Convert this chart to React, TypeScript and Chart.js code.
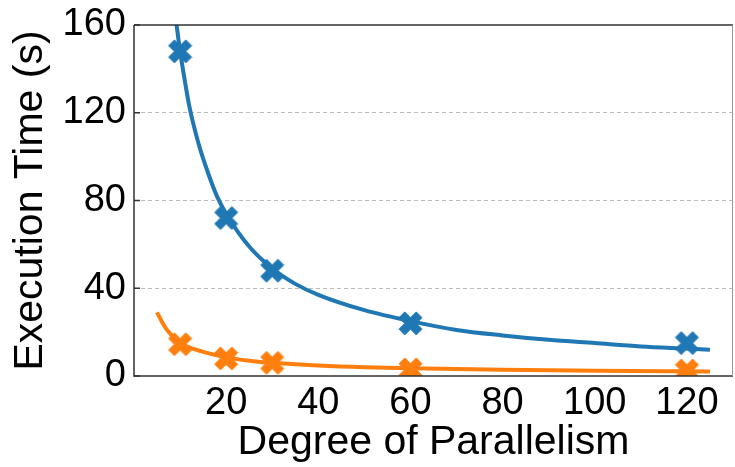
import React, { useEffect, useRef } from "react";
import { Chart, registerables } from "chart.js";

Chart.register(...registerables);

// Measured points (markers)
const degrees = [10, 20, 30, 60, 120];
const blueTimes = [148, 72, 48, 24, 15];
const orangeTimes = [14.5, 8, 6, 3, 2.5];

// Fitted curves
const blueFitX = [9, 10, 11, 12, 14, 16, 18, 20, 25, 30, 35, 40, 50, 60, 70, 80, 90, 100, 110, 120, 125];
const blueFitY = [164, 148, 135, 123, 106, 93, 82, 74, 59, 49, 42, 37, 30, 25, 21, 18.5, 16.5, 15, 13.5, 12.5, 12];
const orangeFitX = [5, 6, 7, 8, 10, 12, 15, 20, 25, 30, 40, 50, 60, 80, 100, 125];
const orangeFitY = [29, 25, 21.5, 19, 15, 13, 11, 8.5, 7, 6, 4.8, 4, 3.5, 2.8, 2.4, 2];

const xTicks = [20, 40, 60, 80, 100, 120];
const yTicks = [0, 40, 80, 120, 160];

const BLUE = "#1f77b4";
const ORANGE = "#ff7f0e";
const FONT = "'Liberation Sans', Arial, Helvetica, sans-serif";

function makeX(color: string, size: number): HTMLCanvasElement {
  const c = document.createElement("canvas");
  c.width = size;
  c.height = size;
  const g = c.getContext("2d")!;
  const s = size;
  const h = s / 2;
  const pts = [
    [0.25, 0], [0.5, 0.25], [0.25, 0.5], [0, 0.25], [-0.25, 0.5], [-0.5, 0.25],
    [-0.25, 0], [-0.5, -0.25], [-0.25, -0.5], [0, -0.25], [0.25, -0.5], [0.5, -0.25],
  ];
  g.fillStyle = color;
  g.strokeStyle = color;
  g.lineWidth = 1;
  g.lineJoin = "round";
  g.beginPath();
  pts.forEach(([px, py], i) => {
    const x = h + px * (s - 2);
    const y = h + py * (s - 2);
    if (i === 0) g.moveTo(x, y);
    else g.lineTo(x, y);
  });
  g.closePath();
  g.fill();
  g.stroke();
  return c;
}

const framePlugin = {
  id: "frame",
  afterDatasetsDraw(chart: any) {
    const { ctx, chartArea, scales } = chart;
    const { left, right, top, bottom } = chartArea;
    ctx.save();
    ctx.lineWidth = 1.5;
    ctx.strokeStyle = "#333";
    ctx.beginPath();
    ctx.moveTo(left, top);
    ctx.lineTo(right, top);
    ctx.moveTo(left, top);
    ctx.lineTo(left, bottom);
    ctx.lineTo(right, bottom);
    ctx.stroke();
    ctx.strokeStyle = "#999";
    ctx.lineWidth = 1;
    ctx.beginPath();
    ctx.moveTo(right - 0.5, top);
    ctx.lineTo(right - 0.5, bottom);
    ctx.stroke();
    ctx.strokeStyle = "#333";
    ctx.lineWidth = 1.5;
    ctx.beginPath();
    yTicks.forEach((v) => {
      const py = scales.y.getPixelForValue(v);
      ctx.moveTo(left, py);
      ctx.lineTo(left + 6, py);
    });
    ctx.stroke();
    ctx.restore();
  },
};

export default function App() {
  const ref = useRef<HTMLCanvasElement | null>(null);

  useEffect(() => {
    document.body.style.margin = "0";
    const canvas = ref.current!;
    const blueX = makeX(BLUE, 25);
    const orangeX = makeX(ORANGE, 25);

    const chart = new Chart(canvas, {
      type: "line",
      data: {
        datasets: [
          {
            label: "blue points",
            data: degrees.map((x, i) => ({ x, y: blueTimes[i] })),
            showLine: false,
            pointStyle: blueX as any,
            pointRadius: 12,
            borderColor: BLUE,
            backgroundColor: BLUE,
            clip: 0,
          },
          {
            label: "orange points",
            data: degrees.map((x, i) => ({ x, y: orangeTimes[i] })),
            showLine: false,
            pointStyle: orangeX as any,
            pointRadius: 12,
            borderColor: ORANGE,
            backgroundColor: ORANGE,
            clip: 0,
          },
          {
            label: "orange fit",
            data: orangeFitX.map((x, i) => ({ x, y: orangeFitY[i] })),
            borderColor: ORANGE,
            borderWidth: 4,
            pointRadius: 0,
            cubicInterpolationMode: "monotone",
            fill: false,
            clip: 0,
          },
          {
            label: "blue fit",
            data: blueFitX.map((x, i) => ({ x, y: blueFitY[i] })),
            borderColor: BLUE,
            borderWidth: 4,
            pointRadius: 0,
            cubicInterpolationMode: "monotone",
            fill: false,
            clip: 0,
          },
        ],
      },
      options: {
        responsive: false,
        animation: false,
        layout: { autoPadding: false, padding: { top: 25, right: 2, left: 0, bottom: 0 } },
        plugins: {
          legend: { display: false },
          tooltip: { enabled: false },
        },
        scales: {
          x: {
            type: "linear",
            min: 0,
            max: 130,
            afterBuildTicks: (s: any) => {
              s.ticks = xTicks.map((v) => ({ value: v }));
            },
            afterFit: (s: any) => {
              s.height = 91;
              s.paddingLeft = 0;
              s.paddingRight = 0;
            },
            grid: { display: false, drawTicks: false },
            border: { display: false },
            ticks: {
              autoSkip: false,
              maxRotation: 0,
              padding: 5,
              color: "#000",
              font: { family: FONT, size: 38 },
            },
            title: {
              display: true,
              text: "Degree of Parallelism",
              color: "#000",
              font: { family: FONT, size: 41 },
              padding: 0,
            },
          },
          y: {
            type: "linear",
            min: 0,
            max: 160,
            afterBuildTicks: (s: any) => {
              s.ticks = yTicks.map((v) => ({ value: v }));
            },
            afterFit: (s: any) => {
              s.width = 134;
              s.paddingTop = 0;
              s.paddingBottom = 0;
            },
            grid: {
              drawTicks: false,
              lineWidth: 1,
              color: (c: any) =>
                c.tick && (c.tick.value === 0 || c.tick.value === 160) ? "rgba(0,0,0,0)" : "#bbbbbb",
            },
            border: { display: false, dash: [4, 3] },
            ticks: {
              padding: 8,
              color: "#000",
              font: { family: FONT, size: 38 },
            },
            title: {
              display: true,
              text: "Execution Time (s)",
              color: "#000",
              font: { family: FONT, size: 41 },
              padding: { top: 6, bottom: 0 },
            },
          },
        },
      },
      plugins: [framePlugin],
    });

    return () => chart.destroy();
  }, []);

  return (
    <div style={{ width: 735, height: 467 }}>
      <canvas ref={ref} width={735} height={467} />
    </div>
  );
}
